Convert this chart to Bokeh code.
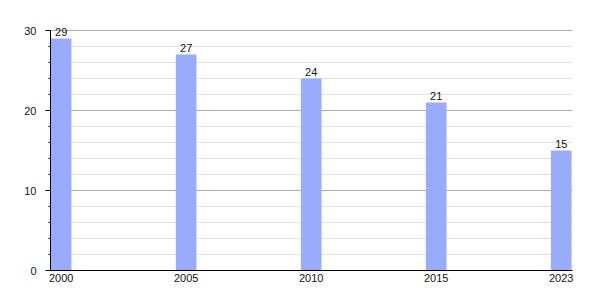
from bokeh.plotting import figure
from bokeh.models import ColumnDataSource, FixedTicker, Range1d
from bokeh.core.properties import value
from bokeh.embed import file_html
from bokeh.resources import INLINE

years = ["2000", "2005", "2010", "2015", "2023"]
values = [29, 27, 24, 21, 15]
y_ticks = [0, 10, 20, 30]

xpos = list(range(len(years)))
src = ColumnDataSource(dict(x=xpos, top=values, label=[str(v) for v in values]))

p = figure(width=600, height=300, output_backend="svg", toolbar_location=None,
           x_range=Range1d(-0.085, 4.09), y_range=Range1d(0, 31.5),
           min_border_left=50, min_border_right=28, min_border_top=18, min_border_bottom=30)
p.outline_line_color = None
p.background_fill_color = "white"
p.border_fill_color = "white"

FONT = "Liberation Sans"

p.vbar(x="x", top="top", width=0.165, source=src, fill_color="#99abfc", line_color=None)
p.text(x="x", y="top", text="label", source=src, text_align="center", text_baseline="bottom",
       y_offset=-3, text_font=value(FONT), text_font_size="11px", text_color="#111111")

# y axis
p.yaxis.ticker = FixedTicker(ticks=y_ticks, minor_ticks=list(range(0, 31, 2)))
p.yaxis.bounds = (0, 30)
p.yaxis.axis_line_color = "black"
p.yaxis.major_tick_out = 5
p.yaxis.major_tick_in = 0
p.yaxis.minor_tick_out = 2
p.yaxis.minor_tick_in = 0
p.yaxis.major_tick_line_color = "black"
p.yaxis.minor_tick_line_color = "black"
p.yaxis.major_label_standoff = 9
p.yaxis.major_label_text_font = FONT
p.yaxis.major_label_text_font_size = "11px"
p.yaxis.major_label_text_color = "#111111"

# x axis
p.xaxis.ticker = FixedTicker(ticks=xpos)
p.xaxis.major_label_overrides = {i: y for i, y in zip(xpos, years)}
p.xaxis.axis_line_color = "black"
p.xaxis.major_tick_line_color = None
p.xaxis.minor_tick_line_color = None
p.xaxis.major_tick_out = 0
p.xaxis.major_tick_in = 0
p.xaxis.major_label_standoff = 3
p.xaxis.major_label_text_font = FONT
p.xaxis.major_label_text_font_size = "11px"
p.xaxis.major_label_text_color = "#111111"

# grids
p.xgrid.grid_line_color = None
p.ygrid.grid_line_color = "#aaaaaa"
p.ygrid.minor_grid_line_color = "#e0e0e0"
p.ygrid.level = "underlay"

open("out.html", "w").write(file_html(p, INLINE))
